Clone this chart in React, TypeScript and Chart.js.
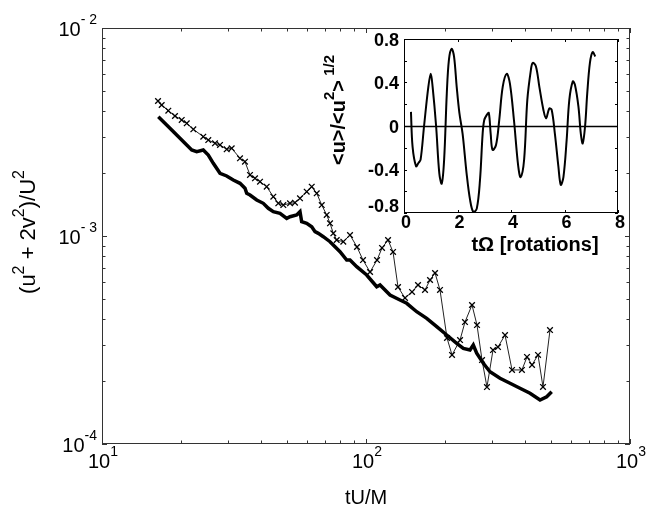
import React, { useEffect, useRef } from "react";
import { Chart, registerables } from "chart.js";
Chart.register(...registerables);

// ---- main panel data ----
const thickT = [16.34, 17.58, 19.19, 20.94, 21.87, 22.84, 24.19, 25.27, 26.4, 27.99, 29.67, 31.42, 33.32, 34.8, 35.33, 36.36, 38.55, 40.83, 42.65, 44.56, 47.23, 50.08, 51.54, 54.63, 56.23, 57.06, 59.62, 62.29, 64.11, 65.97, 68.92, 73.06, 76.32, 79.71, 84.51, 86.98, 92.21, 100.6, 109.8, 113.0, 123.3, 134.5, 142.6, 155.6, 169.8, 185.3, 202.2, 220.6, 233.7, 247.7, 254.9, 262.6, 278.2, 294.9, 321.8, 351.2, 383.1, 418.1, 456.2, 483.6, 505.1];
const thickY = [3.746e-3, 3.417e-3, 3.059e-3, 2.739e-3, 2.591e-3, 2.543e-3, 2.591e-3, 2.451e-3, 2.236e-3, 2.001e-3, 1.943e-3, 1.858e-3, 1.792e-3, 1.696e-3, 1.604e-3, 1.574e-3, 1.49e-3, 1.436e-3, 1.359e-3, 1.309e-3, 1.285e-3, 1.216e-3, 1.238e-3, 1.262e-3, 1.309e-3, 1.171e-3, 1.151e-3, 1.108e-3, 1.049e-3, 1.03e-3, 9.922e-4, 9.388e-4, 8.884e-4, 8.405e-4, 7.665e-4, 7.665e-4, 7.118e-4, 6.494e-4, 5.704e-4, 5.813e-4, 5.204e-4, 4.924e-4, 4.747e-4, 4.325e-4, 4.021e-4, 3.664e-4, 3.342e-4, 3.049e-4, 2.884e-4, 2.83e-4, 2.992e-4, 2.73e-4, 2.443e-4, 2.226e-4, 2.07e-4, 1.958e-4, 1.853e-4, 1.753e-4, 1.627e-4, 1.688e-4, 1.784e-4];

const crossT = [16.3, 16.83, 17.83, 18.9, 20.04, 20.94, 22.18, 24.19, 25.27, 26.79, 27.99, 29.67, 30.99, 33.32, 34.8, 36.36, 37.98, 39.68, 42.06, 44.56, 46.54, 48.62, 51.54, 53.83, 56.23, 59.62, 62.29, 65.07, 67.97, 70.98, 73.06, 75.2, 77.45, 82.04, 86.98, 92.45, 97.41, 103.6, 110.1, 115.0, 121.2, 126.6, 132.2, 140.5, 149.4, 157.4, 167.3, 174.8, 182.6, 190.7, 202.7, 211.8, 227.1, 237.1, 252.1, 263.3, 275.1, 287.2, 302.7, 316.2, 336.2, 357.4, 389.6, 407.2, 425.5, 448.3, 468.2, 497.7];
const crossY = [4.457e-3, 4.264e-3, 4.004e-3, 3.775e-3, 3.612e-3, 3.482e-3, 3.258e-3, 3.002e-3, 2.894e-3, 2.791e-3, 2.739e-3, 2.611e-3, 2.64e-3, 2.364e-3, 2.276e-3, 1.965e-3, 1.894e-3, 1.824e-3, 1.726e-3, 1.545e-3, 1.436e-3, 1.409e-3, 1.436e-3, 1.446e-3, 1.518e-3, 1.633e-3, 1.726e-3, 1.604e-3, 1.409e-3, 1.262e-3, 1.151e-3, 1.03e-3, 9.567e-4, 9.388e-4, 1.011e-3, 8.854e-4, 7.665e-4, 6.713e-4, 7.665e-4, 8.757e-4, 9.567e-4, 8.378e-4, 5.686e-4, 5.035e-4, 5.381e-4, 5.813e-4, 5.501e-4, 6.144e-4, 6.639e-4, 5.501e-4, 3.233e-4, 2.679e-4, 3.162e-4, 3.859e-4, 4.659e-4, 3.733e-4, 2.534e-4, 1.879e-4, 2.83e-4, 2.926e-4, 3.342e-4, 2.27e-4, 2.27e-4, 2.62e-4, 2.4e-4, 2.68e-4, 1.88e-4, 3.53e-4];

const mainXTicks = [10, 100, 1000];
const mainXExp = ["1", "2", "3"];
const mainYTicks = [1e-4, 1e-3, 1e-2];
const mainYExp = ["-4", "- 3", "- 2"];

// ---- inset data ----
const insetT = [0.26, 0.32, 0.45, 0.54, 0.62, 0.75, 0.91, 1.0, 1.07, 1.2, 1.32, 1.41, 1.5, 1.6, 1.68, 1.78, 1.87, 1.97, 2.07, 2.19, 2.34, 2.47, 2.59, 2.72, 2.84, 2.94, 3.0, 3.09, 3.17, 3.24, 3.31, 3.44, 3.56, 3.69, 3.84, 3.96, 4.11, 4.27, 4.36, 4.49, 4.61, 4.74, 4.81, 4.93, 5.06, 5.21, 5.31, 5.43, 5.52, 5.64, 5.77, 5.86, 5.96, 6.08, 6.18, 6.31, 6.39, 6.52, 6.61, 6.68, 6.77, 6.85, 6.95, 7.05, 7.15];
const insetY = [0.13, -0.19, -0.37, -0.34, -0.31, 0.0, 0.36, 0.48, 0.36, 0.0, -0.435, -0.53, -0.31, 0.3, 0.61, 0.71, 0.64, 0.36, 0.12, -0.07, -0.435, -0.68, -0.79, -0.76, -0.5, -0.07, 0.055, 0.1, 0.12, -0.07, -0.22, -0.175, 0.055, 0.36, 0.48, 0.39, 0.055, -0.37, -0.47, -0.31, 0.24, 0.51, 0.58, 0.55, 0.36, 0.15, 0.07, 0.16, 0.15, -0.07, -0.37, -0.54, -0.47, -0.13, 0.24, 0.41, 0.38, 0.18, -0.07, -0.16, 0.0, 0.3, 0.58, 0.68, 0.64];
const insetXTicks = [0, 2, 4, 6, 8];
const insetYTicks = [-0.8, -0.6, -0.4, -0.2, 0, 0.2, 0.4, 0.6, 0.8];
const insetYLabels = [-0.8, -0.4, 0, 0.4, 0.8];

const FONT = "'Liberation Sans', Arial, sans-serif";

type Seg = { t: string; sup?: boolean };

function drawRich(
  ctx: CanvasRenderingContext2D,
  segs: Seg[],
  x: number,
  y: number,
  align: "left" | "center" | "right",
  baseFont: string,
  supFont: string,
  rise: number,
  rot = 0
) {
  ctx.save();
  let W = 0;
  const widths = segs.map((s) => {
    ctx.font = s.sup ? supFont : baseFont;
    const w = ctx.measureText(s.t).width;
    W += w;
    return w;
  });
  ctx.translate(x, y);
  ctx.rotate(rot);
  let cx = align === "center" ? -W / 2 : align === "right" ? -W : 0;
  ctx.textBaseline = "middle";
  ctx.textAlign = "left";
  ctx.fillStyle = "#000";
  segs.forEach((s, i) => {
    ctx.font = s.sup ? supFont : baseFont;
    ctx.fillText(s.t, cx, s.sup ? -rise : 0);
    cx += widths[i];
  });
  ctx.restore();
}

const mainPlugin = {
  id: "mainDecor",
  afterDraw(chart: any) {
    const ctx: CanvasRenderingContext2D = chart.ctx;
    const { left, right, top, bottom } = chart.chartArea;
    const xs = chart.scales.x;
    const ys = chart.scales.y;
    ctx.save();
    ctx.strokeStyle = "#333";
    ctx.lineWidth = 1;
    ctx.strokeRect(left + 0.5, top + 0.5, right - left - 1, bottom - top - 1);
    ctx.beginPath();
    for (let d = 10; d < 1000; d *= 10) {
      for (let m = 1; m <= 10; m++) {
        const v = d * m;
        const px = Math.round(xs.getPixelForValue(v)) + 0.5;
        const len = m === 1 || m === 10 ? 5 : 3.5;
        ctx.moveTo(px, bottom);
        ctx.lineTo(px, bottom - len);
        ctx.moveTo(px, top);
        ctx.lineTo(px, top + len);
      }
    }
    for (let d = 1e-4; d < 1e-2 * 0.99; d *= 10) {
      for (let m = 1; m <= 10; m++) {
        const v = d * m;
        const py = Math.round(ys.getPixelForValue(v)) + 0.5;
        const len = m === 1 || m === 10 ? 5 : 3.5;
        ctx.moveTo(left, py);
        ctx.lineTo(left + len, py);
        ctx.moveTo(right, py);
        ctx.lineTo(right - len, py);
      }
    }
    ctx.stroke();
    ctx.restore();

    const base = `20px ${FONT}`;
    const sup = `14px ${FONT}`;
    mainXTicks.forEach((v, i) => {
      const px = xs.getPixelForValue(v);
      drawRich(ctx, [{ t: "10" }, { t: mainXExp[i], sup: true }], px + 1, bottom + 18, "center", base, sup, 10);
    });
    mainYTicks.forEach((v, i) => {
      const py = ys.getPixelForValue(v);
      drawRich(ctx, [{ t: "10" }, { t: mainYExp[i], sup: true }], left - 5, py + 2, "right", base, sup, 10);
    });
    ctx.save();
    ctx.font = `20px ${FONT}`;
    ctx.fillStyle = "#000";
    ctx.textAlign = "center";
    ctx.textBaseline = "middle";
    ctx.fillText("tU/M", (left + right) / 2, bottom + 54);
    ctx.restore();
    drawRich(
      ctx,
      [{ t: "(u" }, { t: "2", sup: true }, { t: " + 2v" }, { t: "2", sup: true }, { t: ")/U" }, { t: "2", sup: true }],
      29,
      232,
      "center",
      `22px ${FONT}`,
      `16px ${FONT}`,
      9,
      -Math.PI / 2
    );
  },
};

const insetPlugin = {
  id: "insetDecor",
  beforeDatasetsDraw(chart: any) {
    const ctx: CanvasRenderingContext2D = chart.ctx;
    const { left, right, top, bottom } = chart.chartArea;
    const ys = chart.scales.y;
    ctx.save();
    ctx.fillStyle = "#fff";
    ctx.fillRect(left, top, right - left, bottom - top);
    const y0 = Math.round(ys.getPixelForValue(0)) + 0.5;
    ctx.strokeStyle = "#000";
    ctx.lineWidth = 1.3;
    ctx.beginPath();
    ctx.moveTo(left, y0);
    ctx.lineTo(right, y0);
    ctx.stroke();
    ctx.restore();
  },
  afterDraw(chart: any) {
    const ctx: CanvasRenderingContext2D = chart.ctx;
    const { left, right, top, bottom } = chart.chartArea;
    const xs = chart.scales.x;
    const ys = chart.scales.y;
    ctx.save();
    ctx.strokeStyle = "#000";
    ctx.lineWidth = 1;
    ctx.strokeRect(left + 0.5, top + 0.5, right - left - 1, bottom - top - 1);
    ctx.beginPath();
    insetXTicks.forEach((v) => {
      const px = Math.round(xs.getPixelForValue(v)) + 0.5;
      ctx.moveTo(px, bottom);
      ctx.lineTo(px, bottom - 3);
      ctx.moveTo(px, top);
      ctx.lineTo(px, top + 3);
    });
    insetYTicks.forEach((v) => {
      const py = Math.round(ys.getPixelForValue(v)) + 0.5;
      ctx.moveTo(left, py);
      ctx.lineTo(left + 3, py);
      ctx.moveTo(right, py);
      ctx.lineTo(right - 3, py);
    });
    ctx.stroke();
    ctx.fillStyle = "#000";
    ctx.font = `bold 18px ${FONT}`;
    ctx.textBaseline = "middle";
    ctx.textAlign = "right";
    insetYLabels.forEach((v) => {
      let py = ys.getPixelForValue(v);
      if (py > bottom - 8) py = bottom - 8;
      const s = v === 0 ? "0" : v.toFixed(1);
      ctx.fillText(s, left - 5, py + 2);
    });
    ctx.textAlign = "center";
    insetXTicks.forEach((v) => {
      const px = xs.getPixelForValue(v);
      ctx.fillText(String(v), px + 2, bottom + 10);
    });
    ctx.font = `bold 20px ${FONT}`;
    ctx.fillText("t\u03A9 [rotations]", 220, bottom + 32);
    ctx.restore();
    drawRich(
      ctx,
      [{ t: "<u>/<u" }, { t: "2", sup: true }, { t: ">" }, { t: " 1/2", sup: true }],
      left - 65,
      80,
      "center",
      `bold 20px ${FONT}`,
      `bold 15px ${FONT}`,
      9,
      -Math.PI / 2
    );
  },
};

export default function App() {
  const mainRef = useRef<HTMLCanvasElement>(null);
  const insetRef = useRef<HTMLCanvasElement>(null);

  useEffect(() => {
    const mainChart = new Chart(mainRef.current!, {
      type: "scatter",
      data: {
        datasets: [
          {
            data: thickT.map((t, i) => ({ x: t, y: thickY[i] })),
            showLine: true,
            borderColor: "#000",
            borderWidth: 3.5,
            pointRadius: 0,
            tension: 0,
          },
          {
            data: crossT.map((t, i) => ({ x: t, y: crossY[i] })),
            showLine: true,
            borderColor: "#222",
            borderWidth: 1,
            pointStyle: "crossRot",
            pointRadius: 4,
            pointBorderWidth: 1.3,
            pointBorderColor: "#000",
            tension: 0,
          },
        ],
      },
      options: {
        animation: false,
        responsive: false,
        devicePixelRatio: 1,
        layout: { padding: { left: 102, right: 19, top: 28, bottom: 62 } },
        plugins: { legend: { display: false }, tooltip: { enabled: false } },
        scales: {
          x: { type: "logarithmic", min: 10, max: 1000, display: false },
          y: { type: "logarithmic", min: 1e-4, max: 1e-2, display: false },
        },
      },
      plugins: [mainPlugin],
    } as any);

    const insetChart = new Chart(insetRef.current!, {
      type: "scatter",
      data: {
        datasets: [
          {
            data: insetT.map((t, i) => ({ x: t, y: insetY[i] })),
            showLine: true,
            borderColor: "#000",
            borderWidth: 2,
            pointRadius: 0,
            tension: 0.35,
          },
        ],
      },
      options: {
        animation: false,
        responsive: false,
        devicePixelRatio: 1,
        layout: { padding: { left: 89, right: 12, top: 9, bottom: 49 } },
        plugins: { legend: { display: false }, tooltip: { enabled: false } },
        scales: {
          x: { type: "linear", min: 0, max: 8, display: false },
          y: { type: "linear", min: -0.8, max: 0.8, display: false },
        },
      },
      plugins: [insetPlugin],
    } as any);

    return () => {
      mainChart.destroy();
      insetChart.destroy();
    };
  }, []);

  return (
    <div style={{ position: "fixed", left: 0, top: 0, width: 649, height: 506, background: "#fff" }}>
      <canvas ref={mainRef} width={649} height={506} style={{ position: "absolute", left: 0, top: 0 }} />
      <canvas ref={insetRef} width={315} height={232} style={{ position: "absolute", left: 315, top: 30 }} />
    </div>
  );
}
